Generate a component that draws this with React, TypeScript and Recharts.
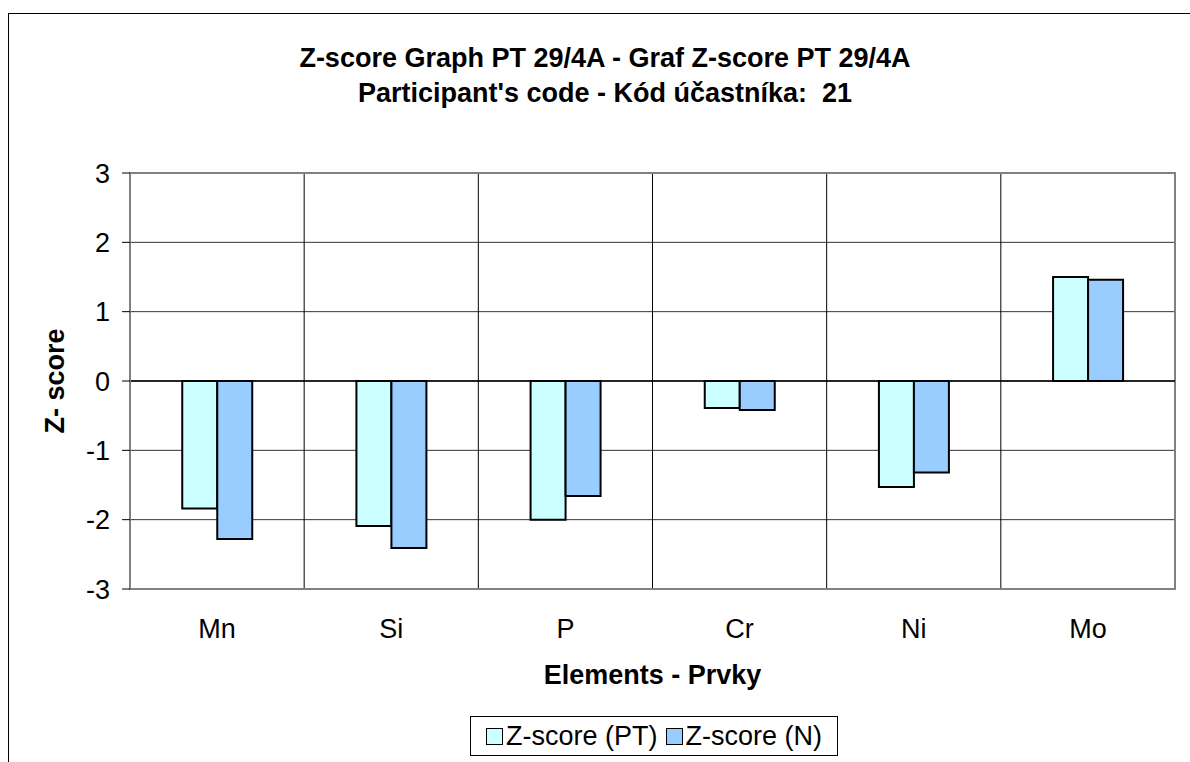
import React from 'react';
import {
  BarChart,
  Bar,
  XAxis,
  YAxis,
  CartesianGrid,
  ReferenceLine,
  ReferenceArea,
  Legend,
} from 'recharts';

const categories = ['Mn', 'Si', 'P', 'Cr', 'Ni', 'Mo'];
const zScorePT = [-1.84, -2.09, -2.0, -0.39, -1.53, 1.5];
const zScoreN = [-2.28, -2.41, -1.66, -0.42, -1.32, 1.46];
const yTicks = [-3, -2, -1, 0, 1, 2, 3];

const seriesNames = ['Z-score (PT)', 'Z-score (N)'];
const seriesColors = ['#CCFFFF', '#99CCFF'];

const titleLines = [
  'Z-score Graph PT 29/4A - Graf Z-score PT 29/4A',
  "Participant's code - Kód účastníka:  21",
];

const FONT = "'Liberation Sans', Arial, sans-serif";

const data = categories.map((name, i) => ({
  name,
  pt: zScorePT[i],
  n: zScoreN[i],
}));

function LegendBox() {
  return (
    <div
      style={{
        display: 'flex',
        alignItems: 'center',
        justifyContent: 'center',
        border: '1px solid #000',
        background: '#fff',
        fontFamily: FONT,
        fontSize: 27,
        lineHeight: '38px',
        boxSizing: 'border-box',
        width: 368,
        height: 40,
        whiteSpace: 'nowrap',
      }}
    >
      {seriesNames.map((label, i) => (
        <span key={label} style={{ display: 'flex', alignItems: 'center', marginRight: i === 0 ? 8 : 0 }}>
          <span
            style={{
              display: 'inline-block',
              width: 15,
              height: 15,
              border: '1px solid #000',
              background: seriesColors[i],
              marginRight: 3,
            }}
          />
          {label}
        </span>
      ))}
    </div>
  );
}

export default function App() {
  return (
    <div
      style={{
        position: 'absolute',
        left: 8,
        top: 8,
        width: 1182,
        height: 754,
        overflow: 'hidden',
        background: '#fff',
      }}
    >
      {/* chart frame, runs off the right and bottom edges */}
      <div
        style={{
          position: 'absolute',
          left: 0,
          top: 5,
          width: 1194,
          height: 800,
          border: '1px solid #000',
          boxSizing: 'border-box',
        }}
      />
      <div
        style={{
          position: 'absolute',
          left: 0,
          top: 33,
          width: 1194,
          textAlign: 'center',
          fontFamily: FONT,
          fontWeight: 'bold',
          fontSize: 27,
          lineHeight: '35px',
          whiteSpace: 'pre',
        }}
      >
        {titleLines.map((t) => (
          <div key={t}>{t}</div>
        ))}
      </div>
      <div style={{ position: 'absolute', left: 0, top: 0 }}>
        <BarChart
          width={1182}
          height={754}
          data={data}
          margin={{ top: 165, right: 15, left: 62, bottom: 113 }}
          barCategoryGap="30%"
          barGap={0}
        >
          <CartesianGrid vertical={false} stroke="#333" strokeWidth={1} horizontalValues={yTicks} />
          <CartesianGrid
            horizontal={false}
            stroke="#000"
            strokeWidth={1}
            verticalCoordinatesGenerator={({ offset }: any) =>
              Array.from(
                { length: categories.length + 1 },
                (_, i) => offset.left + (i * offset.width) / categories.length
              )
            }
          />
          <ReferenceArea y1={-3} y2={3} fill="none" stroke="#808080" strokeWidth={2} />
          <XAxis
            dataKey="name"
            height={60}
            axisLine={false}
            tickLine={false}
            tickSize={0}
            tickMargin={30}
            tick={{ fill: '#000', fontSize: 27, fontFamily: FONT }}
            label={{
              content: ({ viewBox }: any) => (
                <text
                  x={viewBox.x + viewBox.width / 2}
                  y={viewBox.y + 95}
                  textAnchor="middle"
                  fontFamily={FONT}
                  fontWeight="bold"
                  fontSize={27}
                  fill="#000"
                >
                  Elements - Prvky
                </text>
              ),
            }}
          />
          <YAxis
            width={60}
            domain={[-3, 3]}
            ticks={yTicks}
            interval={0}
            axisLine={{ stroke: '#808080', strokeWidth: 2 }}
            tickLine={{ stroke: '#000' }}
            tickSize={8}
            tickMargin={12}
            tick={{ fill: '#000', fontSize: 27, fontFamily: FONT }}
            label={{
              content: ({ viewBox }: any) => {
                const x = viewBox.x - 15;
                const y = viewBox.y + viewBox.height / 2;
                return (
                  <text
                    x={x}
                    y={y}
                    transform={`rotate(-90, ${x}, ${y})`}
                    textAnchor="middle"
                    dominantBaseline="central"
                    fontFamily={FONT}
                    fontWeight="bold"
                    fontSize={27}
                    fill="#000"
                  >
                    Z- score
                  </text>
                );
              },
            }}
          />
          <Legend
            layout="horizontal"
            verticalAlign="middle"
            align="center"
            wrapperStyle={{ left: 462, top: 708, width: 368, height: 40 }}
            content={() => <LegendBox />}
          />
          <Bar
            dataKey="pt"
            name={seriesNames[0]}
            fill={seriesColors[0]}
            stroke="#000"
            strokeWidth={2}
            isAnimationActive={false}
          />
          <Bar
            dataKey="n"
            name={seriesNames[1]}
            fill={seriesColors[1]}
            stroke="#000"
            strokeWidth={2}
            isAnimationActive={false}
          />
          <ReferenceLine y={0} stroke="#000" strokeWidth={1.5} />
        </BarChart>
      </div>
    </div>
  );
}
